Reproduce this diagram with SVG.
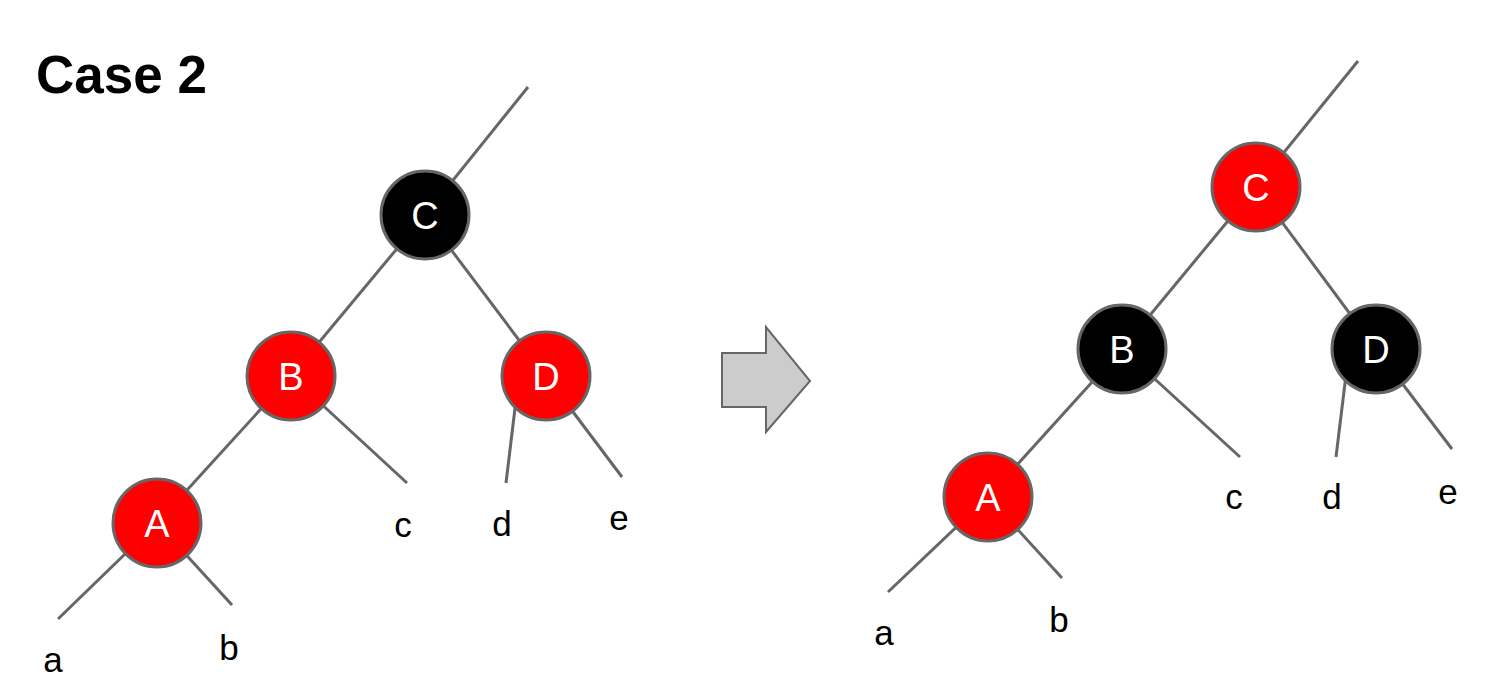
<svg xmlns="http://www.w3.org/2000/svg" width="1511" height="693" viewBox="0 0 1511 693">
<style>
.e{stroke:#666;stroke-width:3;fill:none}
.n circle{stroke:#666;stroke-width:3}
.r{fill:#ff0000}
.k{fill:#000}
.nl{font-family:"Liberation Sans",Arial,sans-serif;font-size:38px;fill:#fff;text-anchor:middle}
.lf{font-family:"Liberation Sans",Arial,sans-serif;font-size:35px;fill:#000;text-anchor:middle}
</style>
<rect width="1511" height="693" fill="#fff"/>
<text x="36" y="93" font-family="Liberation Sans,Arial,sans-serif" font-size="53" font-weight="bold">Case 2</text>
<g id="connectors">
<line class="e" x1="425" y1="215" x2="528" y2="87"/>
<line class="e" x1="425" y1="215" x2="291" y2="376"/>
<line class="e" x1="425" y1="215" x2="546" y2="376"/>
<line class="e" x1="291" y1="376" x2="157" y2="523"/>
<line class="e" x1="291" y1="376" x2="407" y2="483"/>
<line class="e" x1="516" y1="400" x2="506" y2="483"/>
<line class="e" x1="546" y1="376" x2="622" y2="477"/>
<line class="e" x1="157" y1="523" x2="58" y2="619"/>
<line class="e" x1="157" y1="523" x2="232" y2="605"/>
<line class="e" x1="1256" y1="187" x2="1358" y2="61"/>
<line class="e" x1="1256" y1="187" x2="1122" y2="349"/>
<line class="e" x1="1256" y1="187" x2="1376" y2="349"/>
<line class="e" x1="1122" y1="349" x2="988" y2="497"/>
<line class="e" x1="1122" y1="349" x2="1240" y2="457"/>
<line class="e" x1="1346" y1="375" x2="1336" y2="457"/>
<line class="e" x1="1376" y1="349" x2="1452" y2="449"/>
<line class="e" x1="988" y1="497" x2="888" y2="592"/>
<line class="e" x1="988" y1="497" x2="1062" y2="578"/>
</g>
<g id="arrow">
<polygon points="722,353 766,353 766,327 810,381 766,432 766,407 722,407" fill="#cccccc" stroke="#666" stroke-width="2"/>
</g>
<g id="L_C" class="n"><circle class="k" cx="425" cy="215" r="44"/><text class="nl" x="425" y="229">C</text></g>
<g id="L_B" class="n"><circle class="r" cx="291" cy="376" r="44"/><text class="nl" x="291" y="390">B</text></g>
<g id="L_D" class="n"><circle class="r" cx="546" cy="376" r="44"/><text class="nl" x="546" y="390">D</text></g>
<g id="L_A" class="n"><circle class="r" cx="157" cy="523" r="44"/><text class="nl" x="157" y="537">A</text></g>
<g id="L_leaves">
<text class="lf" x="53" y="672">a</text>
<text class="lf" x="229" y="660">b</text>
<text class="lf" x="403" y="537">c</text>
<text class="lf" x="502" y="536">d</text>
<text class="lf" x="619" y="530">e</text>
</g>
<g id="R_C" class="n"><circle class="r" cx="1256" cy="187" r="44"/><text class="nl" x="1256" y="201">C</text></g>
<g id="R_B" class="n"><circle class="k" cx="1122" cy="349" r="44"/><text class="nl" x="1122" y="363">B</text></g>
<g id="R_D" class="n"><circle class="k" cx="1376" cy="349" r="44"/><text class="nl" x="1376" y="363">D</text></g>
<g id="R_A" class="n"><circle class="r" cx="988" cy="497" r="44"/><text class="nl" x="988" y="511">A</text></g>
<g id="R_leaves">
<text class="lf" x="884" y="645">a</text>
<text class="lf" x="1059" y="632">b</text>
<text class="lf" x="1234" y="509">c</text>
<text class="lf" x="1332" y="509">d</text>
<text class="lf" x="1448" y="504">e</text>
</g>
</svg>
